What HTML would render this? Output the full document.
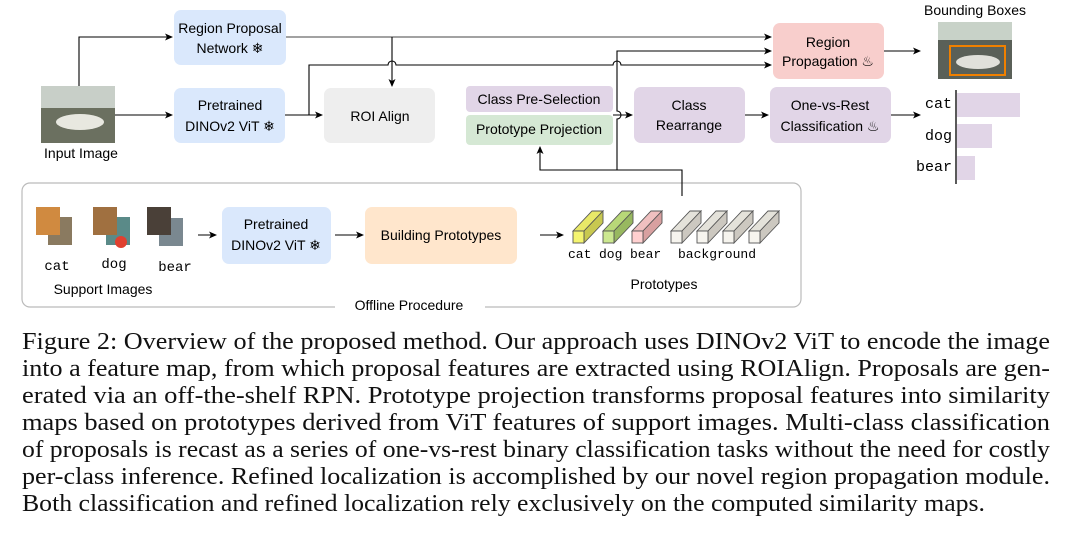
<!DOCTYPE html>
<html><head><style>
body{margin:0;width:1079px;height:536px;background:#fff;overflow:hidden;font-family:"Liberation Sans",sans-serif;}
.cap{position:absolute;left:22px;top:328px;width:1100px;font-family:"Liberation Serif",serif;font-size:24.5px;line-height:27px;color:#111;}
.cap span{display:inline-block;white-space:nowrap;transform-origin:0 0;}
.cap div{height:27px;}
</style></head><body>
<svg width="1079" height="330" style="position:absolute;left:0;top:0" font-family="Liberation Sans, sans-serif">
<defs><marker id="a" markerWidth="8" markerHeight="8" refX="7" refY="4" orient="auto" markerUnits="userSpaceOnUse"><path d="M0,0.5 L8,4 L0,7.5 L2,4z" fill="#000"/></marker></defs>
<rect x="22" y="183" width="779" height="124" rx="8" fill="none" stroke="#bbb" stroke-width="1.2"/>
<rect x="335" y="298" width="150" height="16" fill="#fff"/>
<text x="409" y="310" font-size="14" text-anchor="middle">Offline Procedure</text>
<rect x="174" y="10" width="112" height="55" rx="7" fill="#dae8fc"/>
<text x="230" y="33" font-size="14" text-anchor="middle">Region Proposal</text>
<text x="230" y="53" font-size="14" text-anchor="middle">Network ❄</text>
<rect x="174" y="88" width="111" height="55" rx="7" fill="#dae8fc"/>
<text x="230" y="110" font-size="14" text-anchor="middle">Pretrained</text>
<text x="230" y="131" font-size="14" text-anchor="middle">DINOv2 ViT ❄</text>
<rect x="324" y="88" width="111" height="55" rx="7" fill="#eeeeee"/>
<text x="380" y="121" font-size="14" text-anchor="middle">ROI Align</text>
<rect x="466" y="86" width="147" height="26" rx="4" fill="#e1d5e7"/>
<text x="539" y="104" font-size="14" text-anchor="middle">Class Pre-Selection</text>
<rect x="466" y="115" width="147" height="30" rx="4" fill="#d5e8d4"/>
<text x="539" y="134" font-size="14" text-anchor="middle">Prototype Projection</text>
<rect x="634" y="87" width="111" height="56" rx="7" fill="#e1d5e7"/>
<text x="689" y="110" font-size="14" text-anchor="middle">Class</text>
<text x="689" y="130" font-size="14" text-anchor="middle">Rearrange</text>
<rect x="770" y="87" width="121" height="56" rx="7" fill="#e1d5e7"/>
<text x="830" y="110" font-size="14" text-anchor="middle">One-vs-Rest</text>
<text x="830" y="131" font-size="14" text-anchor="middle">Classification ♨</text>
<rect x="773" y="23" width="111" height="56" rx="7" fill="#f8cecc"/>
<text x="828" y="47" font-size="14" text-anchor="middle">Region</text>
<text x="828" y="66" font-size="14" text-anchor="middle">Propagation ♨</text>
<rect x="41" y="86" width="74" height="57" fill="#6b7060"/>
<rect x="41" y="86" width="74" height="22" fill="#c8cfc8"/>
<ellipse cx="80" cy="122" rx="24" ry="8" fill="#e8e8e0"/>
<text x="81" y="158" font-size="14" text-anchor="middle">Input Image</text>
<text x="975" y="15" font-size="14" text-anchor="middle">Bounding Boxes</text>
<rect x="938" y="22" width="74" height="57" fill="#5a6058"/>
<rect x="938" y="22" width="74" height="18" fill="#c8d2c8"/>
<ellipse cx="978" cy="62" rx="22" ry="7" fill="#e0e0da"/>
<rect x="950" y="46" width="55" height="29" fill="none" stroke="#f08000" stroke-width="2"/>
<line x1="956" y1="90" x2="956" y2="184" stroke="#000" stroke-width="1.3"/>
<rect x="957" y="93" width="63" height="24" fill="#e1d5e7"/>
<rect x="957" y="124" width="35" height="24" fill="#e1d5e7"/>
<rect x="957" y="156" width="18" height="24" fill="#e1d5e7"/>
<g font-family="Liberation Mono, monospace" font-size="15" text-anchor="end">
<text x="952" y="108">cat</text><text x="952" y="140">dog</text><text x="952" y="171">bear</text></g>
<g stroke="#000" stroke-width="1.1" fill="none">
<path d="M79,86 V37 H172" marker-end="url(#a)"/>
<path d="M115,115 H172" marker-end="url(#a)"/>
<path d="M286,37 H771" marker-end="url(#a)" stroke="#444"/>
<path d="M392,37 V86" marker-end="url(#a)"/>
<path d="M285,115 H322" marker-end="url(#a)"/>
<path d="M309,115 V65 H388 a4,4 0 0 1 8,0 H613 a4,4 0 0 1 8,0 H771" marker-end="url(#a)"/>
<path d="M613,115 H632" marker-end="url(#a)"/>
<path d="M745,115 H768" marker-end="url(#a)"/>
<path d="M891,115 H920" marker-end="url(#a)"/>
<path d="M884,51 H920" marker-end="url(#a)"/>
<path d="M682,196 V170 H540 V147" marker-end="url(#a)"/>
<path d="M617,170 V119 a4,4 0 0 0 0,-8 V51 H771" marker-end="url(#a)"/>
<path d="M198,235 H216" marker-end="url(#a)"/>
<path d="M335,235 H363" marker-end="url(#a)"/>
<path d="M540,235 H563" marker-end="url(#a)"/>
</g>
<rect x="48" y="217" width="24" height="28" fill="#8a7a60"/><rect x="36" y="207" width="24" height="28" fill="#d08a40"/>
<rect x="106" y="217" width="24" height="28" fill="#5a8a88"/><rect x="93" y="207" width="24" height="28" fill="#a07040"/><circle cx="121" cy="242" r="6" fill="#e04030"/>
<rect x="159" y="218" width="24" height="28" fill="#7a8890"/><rect x="147" y="207" width="24" height="28" fill="#4a4038"/>
<g font-family="Liberation Mono, monospace" font-size="14" text-anchor="middle">
<text x="57" y="270">cat</text><text x="114" y="268">dog</text><text x="175" y="271">bear</text></g>
<text x="103" y="294" font-size="14" text-anchor="middle">Support Images</text>
<rect x="222" y="207" width="109" height="57" rx="7" fill="#dae8fc"/>
<text x="276" y="229" font-size="14" text-anchor="middle">Pretrained</text>
<text x="276" y="250" font-size="14" text-anchor="middle">DINOv2 ViT ❄</text>
<rect x="365" y="207" width="152" height="57" rx="7" fill="#ffe6cc"/>
<text x="441" y="240" font-size="14" text-anchor="middle">Building Prototypes</text>
<g stroke="#555" stroke-width="0.9">
<g transform="translate(573,231)"><path d="M0,0 L19,-20 H30 L11,0z" fill="#e8e868"/><path d="M11,0 L30,-20 V-8 L11,12z" fill="#c8c850"/><rect width="11" height="12" fill="#f4f470"/></g>
<g transform="translate(603,231)"><path d="M0,0 L19,-20 H30 L11,0z" fill="#b8d878"/><path d="M11,0 L30,-20 V-8 L11,12z" fill="#98b860"/><rect width="11" height="12" fill="#cce890"/></g>
<g transform="translate(632,231)"><path d="M0,0 L19,-20 H30 L11,0z" fill="#f0c0c0"/><path d="M11,0 L30,-20 V-8 L11,12z" fill="#d8a0a0"/><rect width="11" height="12" fill="#ffd0d0"/></g>
<g transform="translate(671,231)"><path d="M0,0 L19,-20 H30 L11,0z" fill="#e4e2da"/><path d="M11,0 L30,-20 V-8 L11,12z" fill="#ccc8c0"/><rect width="11" height="12" fill="#f6f4ee"/></g>
<g transform="translate(697,231)"><path d="M0,0 L19,-20 H30 L11,0z" fill="#e4e2da"/><path d="M11,0 L30,-20 V-8 L11,12z" fill="#ccc8c0"/><rect width="11" height="12" fill="#f6f4ee"/></g>
<g transform="translate(723,231)"><path d="M0,0 L19,-20 H30 L11,0z" fill="#e4e2da"/><path d="M11,0 L30,-20 V-8 L11,12z" fill="#ccc8c0"/><rect width="11" height="12" fill="#f6f4ee"/></g>
<g transform="translate(749,231)"><path d="M0,0 L19,-20 H30 L11,0z" fill="#e4e2da"/><path d="M11,0 L30,-20 V-8 L11,12z" fill="#ccc8c0"/><rect width="11" height="12" fill="#f6f4ee"/></g>
</g>
<g font-family="Liberation Mono, monospace" font-size="13">
<text x="568" y="258">cat</text><text x="599" y="258">dog</text><text x="630" y="258">bear</text><text x="678" y="258">background</text></g>
<text x="664" y="289" font-size="14" text-anchor="middle">Prototypes</text>
</svg>
<div class="cap">
<div><span data-w="1028">Figure 2: Overview of the proposed method. Our approach uses DINOv2 ViT to encode the image</span></div>
<div><span data-w="1028">into a feature map, from which proposal features are extracted using ROIAlign. Proposals are gen-</span></div>
<div><span data-w="1028">erated via an off-the-shelf RPN. Prototype projection transforms proposal features into similarity</span></div>
<div><span data-w="1028">maps based on prototypes derived from ViT features of support images. Multi-class classification</span></div>
<div><span data-w="1028">of proposals is recast as a series of one-vs-rest binary classification tasks without the need for costly</span></div>
<div><span data-w="1028">per-class inference. Refined localization is accomplished by our novel region propagation module.</span></div>
<div><span data-w="963">Both classification and refined localization rely exclusively on the computed similarity maps.</span></div>
</div>
<script>
document.querySelectorAll('.cap span').forEach(function(s){
  var w=s.getBoundingClientRect().width, t=+s.getAttribute('data-w');
  if(w>0) s.style.transform='scaleX('+(t/w)+')';
});
</script>
</body></html>
